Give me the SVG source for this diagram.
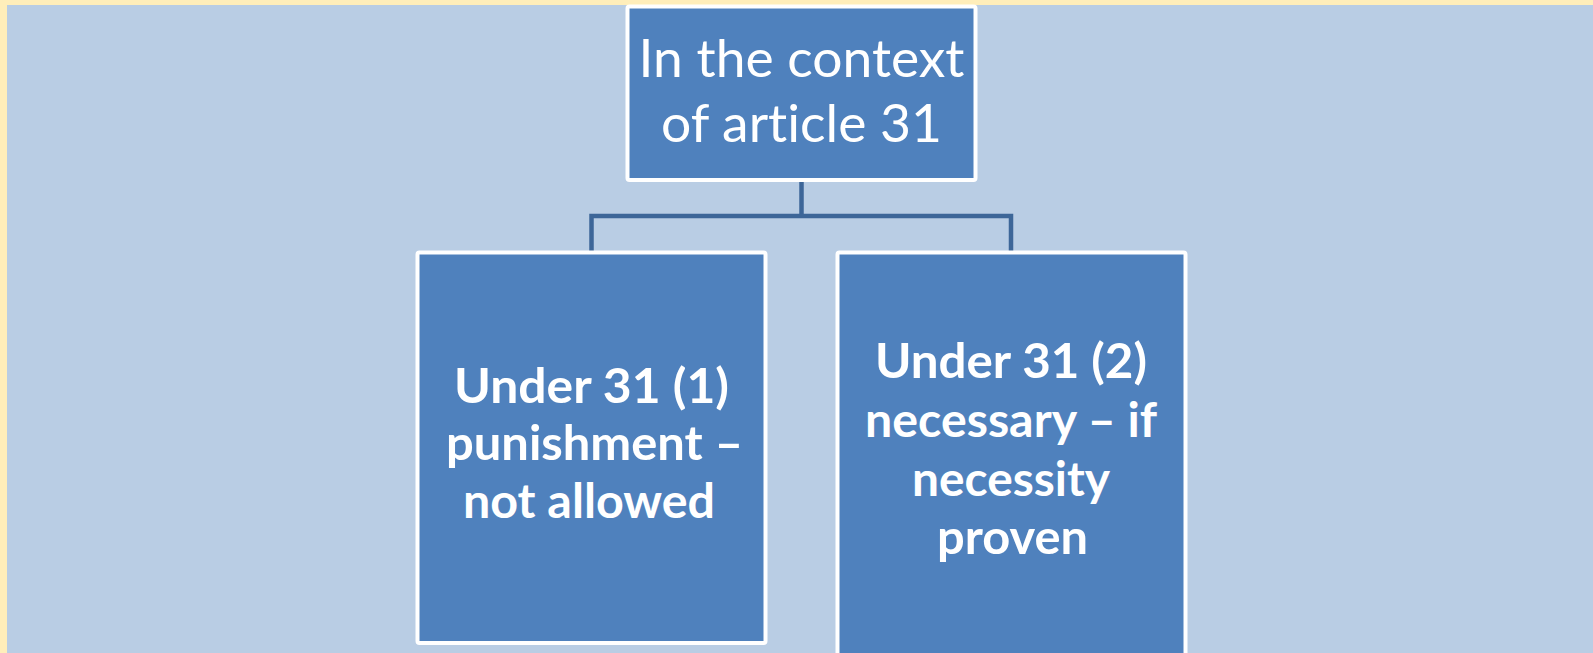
<svg xmlns="http://www.w3.org/2000/svg" width="1593" height="653" viewBox="0 0 1593 653">
<style>
.node rect{fill:#4F81BD;stroke:#FFFFFF;stroke-width:4}
.t{fill:#FFFFFF;font-family:Lato,"Open Sans",sans-serif;text-anchor:middle;font-variant-ligatures:none;font-feature-settings:"liga" 0}
.top{font-size:53px}
.bold{font-size:47.5px;font-weight:bold}
.conn{fill:none;stroke:#3D6698;stroke-width:4.5}
</style>
<rect x="0" y="0" width="1593" height="653" fill="#FFEEBA"/>
<rect x="7" y="5" width="1586" height="648" fill="#B9CDE4"/>
<g id="connectors">
<path class="conn" d="M801.5,182 V216 M591.5,252 V216 H1011 V252"/>
</g>
<g id="node-top" class="node">
<rect x="627.5" y="6.5" width="348" height="173.5" rx="2"/>
<text class="t top" x="801.5" y="77" textLength="326" lengthAdjust="spacingAndGlyphs">In the context</text>
<text class="t top" x="801.5" y="141.5" textLength="281" lengthAdjust="spacingAndGlyphs">of article 31</text>
</g>
<g id="node-left" class="node">
<rect x="417.5" y="252.5" width="348" height="390.5" rx="2"/>
<text class="t bold" x="591.5" y="403" textLength="275" lengthAdjust="spacingAndGlyphs">Under 31 (1)</text>
<text class="t bold" x="594.5" y="460" textLength="297" lengthAdjust="spacingAndGlyphs">punishment –</text>
<text class="t bold" x="589" y="518" textLength="252" lengthAdjust="spacingAndGlyphs">not allowed</text>
</g>
<g id="node-right" class="node">
<rect x="837.5" y="252.5" width="348" height="410" rx="2"/>
<text class="t bold" x="1011" y="378" textLength="272" lengthAdjust="spacingAndGlyphs">Under 31 (2)</text>
<text class="t bold" x="1011" y="437" textLength="292" lengthAdjust="spacingAndGlyphs">necessary – if</text>
<text class="t bold" x="1011" y="496" textLength="198" lengthAdjust="spacingAndGlyphs">necessity</text>
<text class="t bold" x="1012.5" y="554" textLength="151" lengthAdjust="spacingAndGlyphs">proven</text>
</g>
</svg>
